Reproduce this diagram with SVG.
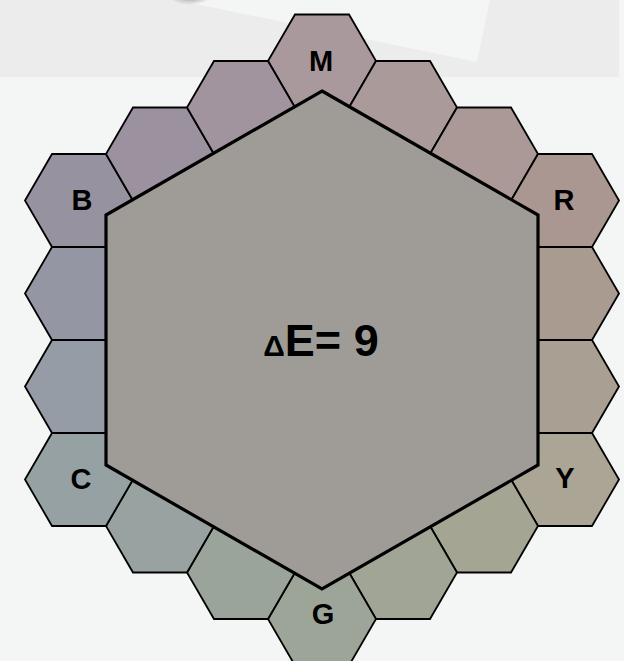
<svg xmlns="http://www.w3.org/2000/svg" xmlns:xlink="http://www.w3.org/1999/xlink" width="624" height="661" viewBox="0 0 624 661">
  <defs>
    <style>
      .cell { stroke: #000; stroke-width: 1.8; stroke-linejoin: miter; }
      .lbl { font-family: "Liberation Sans", Arial, sans-serif; font-weight: bold; font-size: 29px; fill: #000; text-anchor: middle; }
      .big { fill: #9f9c97; stroke: #000; stroke-width: 3.2; stroke-linejoin: miter; }
      .title { font-family: "Liberation Sans", Arial, sans-serif; font-weight: bold; font-size: 45px; fill: #000; text-anchor: middle; }
    </style>
    <path id="hex" class="cell" d="M-54,0 L-27,-46.5 L27,-46.5 L54,0 L27,46.5 L-27,46.5 Z"/>
    <radialGradient id="shadow" cx="0.5" cy="0.5" r="0.5">
      <stop offset="0" stop-color="#555" stop-opacity="0.8"/>
      <stop offset="0.55" stop-color="#777" stop-opacity="0.5"/>
      <stop offset="1" stop-color="#999" stop-opacity="0"/>
    </radialGradient>
  </defs>

  <g id="background">
    <rect x="0" y="0" width="624" height="661" fill="#f4f6f5"/>
    <rect x="0" y="0" width="619" height="77" fill="#ebeceb"/>
    <polygon points="128,-10 477,62 492,-10" fill="#f4f6f5"/>
    <ellipse cx="190" cy="-7" rx="24" ry="12" fill="url(#shadow)"/>
  </g>

  <g id="ring">
    <g id="hex-M"><use xlink:href="#hex" href="#hex" x="322" y="61" fill="#a9999d"/></g>
    <g id="hex-MR1"><use xlink:href="#hex" href="#hex" x="403" y="107.5" fill="#aa9a9a"/></g>
    <g id="hex-MR2"><use xlink:href="#hex" href="#hex" x="484" y="154" fill="#aa9996"/></g>
    <g id="hex-R"><use xlink:href="#hex" href="#hex" x="565" y="200.5" fill="#aa9791"/></g>
    <g id="hex-RY1"><use xlink:href="#hex" href="#hex" x="565" y="293.5" fill="#aa9b91"/></g>
    <g id="hex-RY2"><use xlink:href="#hex" href="#hex" x="565" y="386.5" fill="#aa9f93"/></g>
    <g id="hex-Y"><use xlink:href="#hex" href="#hex" x="565" y="479.5" fill="#aaa594"/></g>
    <g id="hex-YG1"><use xlink:href="#hex" href="#hex" x="484" y="526" fill="#a5a594"/></g>
    <g id="hex-YG2"><use xlink:href="#hex" href="#hex" x="403" y="572.5" fill="#a0a595"/></g>
    <g id="hex-G"><use xlink:href="#hex" href="#hex" x="322" y="619" fill="#9ca597"/></g>
    <g id="hex-GC1"><use xlink:href="#hex" href="#hex" x="241" y="572.5" fill="#9aa49b"/></g>
    <g id="hex-GC2"><use xlink:href="#hex" href="#hex" x="160" y="526" fill="#98a2a0"/></g>
    <g id="hex-C"><use xlink:href="#hex" href="#hex" x="79" y="479.5" fill="#96a1a4"/></g>
    <g id="hex-CB1"><use xlink:href="#hex" href="#hex" x="79" y="386.5" fill="#959ca5"/></g>
    <g id="hex-CB2"><use xlink:href="#hex" href="#hex" x="79" y="293.5" fill="#9497a3"/></g>
    <g id="hex-B"><use xlink:href="#hex" href="#hex" x="79" y="200.5" fill="#9692a0"/></g>
    <g id="hex-BM1"><use xlink:href="#hex" href="#hex" x="160" y="154" fill="#9c929f"/></g>
    <g id="hex-BM2"><use xlink:href="#hex" href="#hex" x="241" y="107.5" fill="#a1949e"/></g>
  </g>

  <g id="center">
    <polygon class="big" points="322,91 538,215 538,465 322,589 106,465 106,215"/>
    <text class="title" x="321" y="356"><tspan font-size="30">Δ</tspan>E= 9</text>
  </g>

  <g id="labels">
    <text class="lbl" x="321" y="71">M</text>
    <text class="lbl" x="564" y="210">R</text>
    <text class="lbl" x="565" y="488">Y</text>
    <text class="lbl" x="323" y="624">G</text>
    <text class="lbl" x="81" y="489">C</text>
    <text class="lbl" x="82" y="210">B</text>
  </g>

  <g id="connectors"/>
</svg>
